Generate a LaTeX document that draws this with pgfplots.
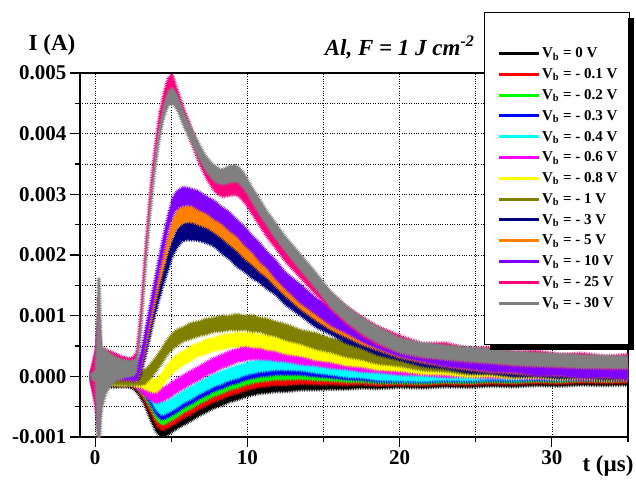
\documentclass[border=0pt]{standalone}
\usepackage{pgfplots}
\pgfplotsset{compat=1.18}
\usepackage{pgfplotstable}
\usepgfplotslibrary{fillbetween}
\usetikzlibrary{decorations.pathmorphing}
\usepackage{fontspec}
\setmainfont{Liberation Serif}

\definecolor{cRed}{RGB}{255,0,0}
\definecolor{cGreen}{RGB}{0,255,0}
\definecolor{cBlue}{RGB}{0,0,255}
\definecolor{cCyan}{RGB}{0,255,255}
\definecolor{cMag}{RGB}{255,0,255}
\definecolor{cYel}{RGB}{255,255,0}
\definecolor{cOlive}{RGB}{128,128,0}
\definecolor{cNavy}{RGB}{0,0,128}
\definecolor{cOrange}{RGB}{255,128,0}
\definecolor{cViolet}{RGB}{128,0,255}
\definecolor{cPink}{RGB}{255,0,128}
\definecolor{cGray}{RGB}{128,128,128}

% current in mA (tick labels give A)
\pgfplotstableread{
t lo hi
-0.3 -0.10 0.02
0.05 -0.35 0.25
0.2 -0.60 0.50
0.4 -0.30 0.20
0.7 -0.17 0.01
1.2 -0.19 0.00
1.8 -0.18 0.01
2.4 -0.19 -0.01
2.8 -0.29 -0.08
3.2 -0.46 -0.26
3.6 -0.71 -0.50
4.0 -0.93 -0.71
4.4 -1.02 -0.80
4.8 -0.97 -0.75
5.3 -0.88 -0.67
5.8 -0.81 -0.60
6.3 -0.74 -0.52
6.8 -0.66 -0.46
7.3 -0.60 -0.38
7.8 -0.53 -0.33
8.3 -0.49 -0.27
8.8 -0.43 -0.23
9.3 -0.40 -0.18
9.8 -0.35 -0.15
10.3 -0.32 -0.10
10.8 -0.29 -0.09
11.3 -0.28 -0.06
11.8 -0.26 -0.06
12.5 -0.26 -0.04
13.5 -0.23 -0.03
14.5 -0.23 -0.01
15.5 -0.22 -0.02
16.5 -0.22 0.00
17.5 -0.20 0.00
18.5 -0.21 0.01
20 -0.19 0.01
21.5 -0.20 0.02
23 -0.18 0.02
24.5 -0.19 0.03
26 -0.17 0.03
27.5 -0.18 0.04
29 -0.16 0.04
30.5 -0.17 0.05
32 -0.15 0.05
33.5 -0.16 0.06
35 -0.15 0.05
}\Sblack

\pgfplotstableread{
t lo hi
-0.3 -0.08 0.04
0.05 -0.30 0.22
0.2 -0.55 0.45
0.4 -0.28 0.18
0.7 -0.15 0.03
1.2 -0.16 0.02
1.8 -0.17 0.03
2.4 -0.16 0.02
2.8 -0.24 -0.04
3.2 -0.40 -0.19
3.6 -0.60 -0.38
4.0 -0.81 -0.60
4.4 -0.90 -0.68
4.8 -0.85 -0.64
5.3 -0.78 -0.56
5.8 -0.69 -0.48
6.3 -0.63 -0.41
6.8 -0.55 -0.35
7.3 -0.49 -0.27
7.8 -0.42 -0.22
8.3 -0.38 -0.16
8.8 -0.32 -0.11
9.3 -0.29 -0.07
9.8 -0.24 -0.03
10.3 -0.21 0.01
10.8 -0.18 0.02
11.3 -0.17 0.05
11.8 -0.15 0.05
12.5 -0.15 0.07
13.5 -0.13 0.07
14.5 -0.14 0.08
15.5 -0.14 0.06
16.5 -0.15 0.07
17.5 -0.14 0.06
18.5 -0.16 0.06
20 -0.15 0.05
21.5 -0.16 0.06
23 -0.14 0.06
24.5 -0.15 0.07
26 -0.13 0.07
27.5 -0.14 0.08
29 -0.12 0.08
30.5 -0.13 0.09
32 -0.11 0.09
33.5 -0.12 0.10
35 -0.11 0.09
}\Sred

\pgfplotstableread{
t lo hi
-0.3 -0.07 0.05
0.05 -0.28 0.20
0.2 -0.50 0.42
0.4 -0.25 0.17
0.7 -0.14 0.04
1.2 -0.15 0.03
1.8 -0.16 0.05
2.4 -0.15 0.03
2.8 -0.21 -0.01
3.2 -0.34 -0.13
3.6 -0.51 -0.29
4.0 -0.72 -0.51
4.4 -0.81 -0.59
4.8 -0.76 -0.55
5.3 -0.69 -0.47
5.8 -0.60 -0.39
6.3 -0.54 -0.32
6.8 -0.46 -0.25
7.3 -0.40 -0.18
7.8 -0.33 -0.12
8.3 -0.29 -0.07
8.8 -0.23 -0.02
9.3 -0.20 0.02
9.8 -0.15 0.06
10.3 -0.12 0.10
10.8 -0.09 0.11
11.3 -0.08 0.14
11.8 -0.06 0.14
12.5 -0.06 0.16
13.5 -0.05 0.15
14.5 -0.07 0.15
15.5 -0.08 0.12
16.5 -0.10 0.12
17.5 -0.10 0.10
18.5 -0.12 0.10
20 -0.12 0.08
21.5 -0.13 0.09
23 -0.11 0.09
24.5 -0.12 0.10
26 -0.10 0.10
27.5 -0.11 0.11
29 -0.09 0.11
30.5 -0.10 0.12
32 -0.08 0.12
33.5 -0.09 0.13
35 -0.08 0.12
}\Sgreen

\pgfplotstableread{
t lo hi
-0.3 -0.06 0.06
0.05 -0.26 0.18
0.2 -0.45 0.40
0.4 -0.22 0.16
0.7 -0.13 0.05
1.2 -0.14 0.04
1.8 -0.15 0.06
2.4 -0.14 0.04
2.8 -0.19 0.01
3.2 -0.29 -0.08
3.6 -0.45 -0.23
4.0 -0.64 -0.43
4.4 -0.73 -0.51
4.8 -0.68 -0.47
5.3 -0.61 -0.39
5.8 -0.52 -0.31
6.3 -0.46 -0.24
6.8 -0.38 -0.17
7.3 -0.32 -0.10
7.8 -0.25 -0.04
8.3 -0.21 0.01
8.8 -0.15 0.06
9.3 -0.12 0.10
9.8 -0.07 0.14
10.3 -0.04 0.18
10.8 -0.01 0.19
11.3 0.00 0.22
11.8 0.02 0.22
12.5 0.02 0.24
13.5 0.02 0.22
14.5 -0.01 0.21
15.5 -0.03 0.17
16.5 -0.06 0.16
17.5 -0.07 0.13
18.5 -0.10 0.12
20 -0.10 0.10
21.5 -0.11 0.11
23 -0.09 0.11
24.5 -0.10 0.12
26 -0.08 0.12
27.5 -0.09 0.13
29 -0.07 0.13
30.5 -0.08 0.14
32 -0.06 0.14
33.5 -0.07 0.15
35 -0.06 0.14
}\Sblue

\pgfplotstableread{
t lo hi
-0.3 -0.05 0.07
0.05 -0.24 0.17
0.2 -0.42 0.38
0.4 -0.20 0.15
0.7 -0.12 0.06
1.2 -0.13 0.05
1.8 -0.14 0.07
2.4 -0.13 0.05
2.8 -0.17 0.03
3.2 -0.24 -0.03
3.6 -0.38 -0.16
4.0 -0.56 -0.35
4.4 -0.65 -0.43
4.8 -0.60 -0.39
5.3 -0.53 -0.31
5.8 -0.44 -0.23
6.3 -0.38 -0.16
6.8 -0.30 -0.09
7.3 -0.24 -0.02
7.8 -0.17 0.04
8.3 -0.13 0.09
8.8 -0.07 0.14
9.3 -0.04 0.18
9.8 0.01 0.22
10.3 0.04 0.26
10.8 0.07 0.27
11.3 0.08 0.30
11.8 0.10 0.30
12.5 0.10 0.32
13.5 0.09 0.29
14.5 0.05 0.27
15.5 0.02 0.22
16.5 -0.02 0.20
17.5 -0.03 0.17
18.5 -0.07 0.15
20 -0.08 0.12
21.5 -0.09 0.13
23 -0.07 0.13
24.5 -0.08 0.14
26 -0.06 0.14
27.5 -0.07 0.15
29 -0.05 0.15
30.5 -0.06 0.16
32 -0.04 0.16
33.5 -0.05 0.17
35 -0.04 0.16
}\Scyan

\pgfplotstableread{
t lo hi
-0.3 -0.06 0.07
0.05 -0.22 0.18
0.2 -0.40 0.36
0.4 -0.19 0.15
0.7 -0.13 0.08
1.2 -0.14 0.07
1.8 -0.15 0.06
2.4 -0.14 0.05
2.8 -0.21 0.00
3.2 -0.31 -0.08
3.6 -0.40 -0.17
4.0 -0.45 -0.21
4.4 -0.42 -0.19
4.8 -0.37 -0.13
5.3 -0.28 -0.05
5.8 -0.21 0.03
6.3 -0.13 0.10
6.8 -0.07 0.17
7.3 0.01 0.24
7.8 0.06 0.31
8.3 0.13 0.36
8.8 0.17 0.42
9.3 0.23 0.46
9.8 0.25 0.50
10.3 0.28 0.51
10.8 0.27 0.52
11.3 0.27 0.50
11.8 0.25 0.50
12.5 0.24 0.47
13.5 0.19 0.44
14.5 0.17 0.40
15.5 0.13 0.38
16.5 0.11 0.34
17.5 0.07 0.32
18.5 0.06 0.29
20 0.02 0.27
21.5 0.01 0.24
23 -0.02 0.23
24.5 -0.02 0.21
26 -0.04 0.21
27.5 -0.04 0.19
29 -0.05 0.20
30.5 -0.05 0.18
32 -0.06 0.19
33.5 -0.06 0.17
35 -0.07 0.17
}\Smag

\pgfplotstableread{
t lo hi
-0.3 -0.06 0.07
0.05 -0.20 0.17
0.2 -0.36 0.33
0.4 -0.17 0.14
0.7 -0.13 0.08
1.2 -0.15 0.07
1.8 -0.16 0.06
2.4 -0.15 0.06
2.8 -0.18 0.04
3.2 -0.21 0.02
3.6 -0.26 -0.02
4.0 -0.28 -0.05
4.4 -0.18 0.07
4.8 -0.02 0.22
5.3 0.09 0.35
5.8 0.19 0.42
6.3 0.25 0.51
6.8 0.33 0.55
7.3 0.36 0.62
7.8 0.42 0.64
8.3 0.43 0.69
8.8 0.48 0.70
9.3 0.47 0.73
9.8 0.50 0.72
10.3 0.47 0.73
10.8 0.47 0.69
11.3 0.43 0.69
11.8 0.42 0.64
12.5 0.36 0.62
13.5 0.33 0.55
14.5 0.26 0.52
15.5 0.23 0.45
16.5 0.17 0.43
17.5 0.15 0.37
18.5 0.10 0.36
20 0.08 0.30
21.5 0.03 0.29
23 0.02 0.24
24.5 -0.02 0.24
26 -0.01 0.21
27.5 -0.04 0.22
29 -0.03 0.19
30.5 -0.06 0.20
32 -0.04 0.18
33.5 -0.07 0.19
35 -0.05 0.17
}\Syel

\pgfplotstableread{
t lo hi
-0.3 -0.05 0.08
0.05 -0.18 0.16
0.2 -0.33 0.30
0.4 -0.15 0.13
0.7 -0.12 0.09
1.2 -0.14 0.08
1.8 -0.15 0.07
2.4 -0.15 0.07
2.8 -0.15 0.08
3.2 -0.15 0.10
3.6 -0.05 0.20
4.0 0.07 0.33
4.4 0.21 0.48
4.8 0.37 0.64
5.3 0.49 0.77
5.8 0.57 0.82
6.3 0.61 0.89
6.8 0.66 0.91
7.3 0.68 0.96
7.8 0.73 0.97
8.3 0.73 1.01
8.8 0.76 1.00
9.3 0.75 1.04
9.8 0.76 1.00
10.3 0.73 1.02
10.8 0.73 0.97
11.3 0.68 0.96
11.8 0.66 0.91
12.5 0.59 0.87
13.5 0.53 0.77
14.5 0.44 0.72
15.5 0.39 0.63
16.5 0.31 0.59
17.5 0.27 0.51
18.5 0.20 0.48
20 0.16 0.40
21.5 0.09 0.37
23 0.07 0.31
24.5 0.02 0.30
26 0.02 0.26
27.5 -0.02 0.26
29 -0.01 0.23
30.5 -0.04 0.24
32 -0.03 0.21
33.5 -0.05 0.22
35 -0.04 0.20
}\Solive

\pgfplotstableread{
t lo hi
-0.3 -0.06 0.05
0.05 -0.45 0.40
0.2 -0.85 0.95
0.4 -0.35 0.40
0.7 -0.12 0.25
1.2 -0.07 0.20
1.8 -0.07 0.18
2.4 -0.08 0.15
2.7 -0.10 0.13
3.0 0.00 0.30
3.3 0.30 0.61
3.6 0.62 0.93
3.9 0.96 1.26
4.2 1.24 1.56
4.5 1.51 1.80
4.8 1.74 2.06
5.1 1.98 2.27
5.4 2.12 2.44
5.8 2.24 2.53
6.3 2.24 2.56
6.8 2.23 2.52
7.3 2.19 2.51
7.8 2.14 2.43
8.3 2.02 2.34
8.8 1.93 2.21
9.3 1.80 2.12
9.8 1.72 2.00
10.3 1.61 1.93
10.8 1.54 1.82
11.3 1.43 1.75
11.8 1.35 1.63
12.5 1.17 1.49
13.5 0.99 1.27
14.5 0.80 1.12
15.5 0.68 0.96
16.5 0.54 0.86
17.5 0.46 0.74
18.5 0.35 0.67
20 0.26 0.54
21.5 0.16 0.48
23 0.12 0.40
24.5 0.05 0.37
26 0.04 0.32
27.5 -0.01 0.31
29 -0.01 0.27
30.5 -0.04 0.28
32 -0.03 0.25
33.5 -0.06 0.26
35 -0.05 0.23
}\Snavy

\pgfplotstableread{
t lo hi
-0.3 -0.06 0.06
0.05 -0.48 0.42
0.2 -0.88 0.98
0.4 -0.38 0.42
0.7 -0.11 0.26
1.2 -0.06 0.21
1.8 -0.07 0.19
2.4 -0.08 0.17
2.7 -0.10 0.15
3.0 0.06 0.35
3.3 0.40 0.70
3.6 0.77 1.07
3.9 1.13 1.43
4.2 1.48 1.78
4.5 1.78 2.09
4.8 2.08 2.38
5.1 2.31 2.61
5.4 2.45 2.76
5.8 2.53 2.82
6.3 2.54 2.83
6.8 2.49 2.79
7.3 2.45 2.73
7.8 2.37 2.68
8.3 2.28 2.56
8.8 2.17 2.47
9.3 2.07 2.35
9.8 1.94 2.24
10.3 1.84 2.12
10.8 1.72 2.02
11.3 1.62 1.90
11.8 1.49 1.79
12.5 1.32 1.60
13.5 1.10 1.40
14.5 0.92 1.20
15.5 0.76 1.06
16.5 0.64 0.92
17.5 0.52 0.82
18.5 0.43 0.71
20 0.30 0.56
21.5 0.22 0.48
23 0.15 0.43
24.5 0.10 0.37
26 0.06 0.35
27.5 0.04 0.31
29 0.01 0.29
30.5 0.00 0.28
32 -0.02 0.26
33.5 -0.03 0.25
35 -0.04 0.24
}\Sorange

\pgfplotstableread{
t lo hi
-0.3 -0.07 0.06
0.05 -0.50 0.45
0.2 -0.90 1.00
0.4 -0.40 0.45
0.7 -0.10 0.28
1.2 -0.05 0.22
1.8 -0.06 0.20
2.4 -0.07 0.18
2.7 -0.09 0.17
3.0 0.10 0.40
3.3 0.49 0.81
3.6 0.90 1.21
3.9 1.29 1.61
4.2 1.70 2.00
4.5 2.04 2.37
4.8 2.40 2.70
5.1 2.64 2.97
5.4 2.77 3.07
5.8 2.81 3.13
6.3 2.82 3.10
6.8 2.74 3.06
7.3 2.69 2.97
7.8 2.59 2.91
8.3 2.52 2.80
8.8 2.40 2.72
9.3 2.31 2.59
9.8 2.16 2.48
10.3 2.05 2.33
10.8 1.89 2.21
11.3 1.78 2.06
11.8 1.62 1.94
12.5 1.44 1.72
13.5 1.20 1.52
14.5 1.02 1.30
15.5 0.83 1.15
16.5 0.71 0.99
17.5 0.57 0.86
18.5 0.46 0.74
20 0.32 0.58
21.5 0.24 0.50
23 0.16 0.46
24.5 0.12 0.40
26 0.07 0.38
27.5 0.06 0.33
29 0.01 0.32
30.5 0.01 0.29
32 -0.03 0.29
33.5 -0.02 0.26
35 -0.05 0.27
}\Sviolet

\pgfplotstableread{
t lo hi
-0.3 -0.06 0.07
0.05 -0.60 0.50
0.2 -1.05 1.30
0.4 -0.50 0.48
0.7 -0.18 0.45
1.2 -0.06 0.40
1.8 -0.01 0.33
2.4 0.02 0.30
2.7 0.10 0.40
3.0 0.85 1.15
3.3 1.90 2.20
3.6 2.80 3.10
3.9 3.50 3.80
4.2 4.06 4.34
4.5 4.40 4.70
4.8 4.64 4.95
5.1 4.65 4.98
5.4 4.45 4.74
5.8 4.17 4.45
6.3 3.84 4.12
6.8 3.51 3.79
7.3 3.25 3.52
7.8 3.05 3.32
8.3 2.95 3.22
8.8 2.97 3.24
9.3 2.99 3.26
9.8 2.86 3.14
10.3 2.67 2.94
10.8 2.47 2.74
11.3 2.28 2.56
11.8 2.12 2.38
12.5 1.88 2.16
13.5 1.61 1.89
14.5 1.34 1.63
15.5 1.09 1.38
16.5 0.86 1.16
17.5 0.67 0.99
18.5 0.52 0.84
20 0.38 0.68
21.5 0.30 0.55
23 0.27 0.56
24.5 0.23 0.47
26 0.21 0.49
27.5 0.17 0.41
29 0.16 0.43
30.5 0.14 0.37
32 0.13 0.39
33.5 0.12 0.34
35 0.12 0.37
}\Spink

\pgfplotstableread{
t lo hi
-0.3 -0.05 0.05
-0.02 -0.08 0.08
0.08 -0.70 0.60
0.15 -1.30 1.62
0.32 -1.30 1.62
0.42 -0.60 0.50
0.7 -0.30 0.44
1.2 -0.10 0.34
1.8 -0.03 0.28
2.4 -0.01 0.26
2.7 0.03 0.30
3.0 0.60 0.90
3.3 1.65 1.95
3.6 2.55 2.85
3.9 3.26 3.55
4.2 3.82 4.09
4.5 4.22 4.48
4.8 4.45 4.72
5.1 4.48 4.76
5.4 4.37 4.63
5.8 4.11 4.39
6.3 3.85 4.11
6.8 3.58 3.86
7.3 3.37 3.63
7.8 3.21 3.49
8.3 3.15 3.41
8.8 3.18 3.48
9.3 3.21 3.49
9.8 3.08 3.36
10.3 2.87 3.13
10.8 2.66 2.94
11.3 2.47 2.73
11.8 2.28 2.56
12.5 2.05 2.31
13.5 1.74 2.02
14.5 1.44 1.72
15.5 1.12 1.40
16.5 0.89 1.17
17.5 0.70 0.98
18.5 0.55 0.83
20 0.38 0.64
21.5 0.31 0.56
23 0.27 0.52
24.5 0.24 0.49
26 0.21 0.46
27.5 0.18 0.42
29 0.16 0.40
30.5 0.15 0.38
32 0.13 0.36
33.5 0.13 0.35
35 0.12 0.34
}\Sgray

\newcommand{\band}[3]{%
  \addplot[draw=none, forget plot, name path=#3h] table[x=t,y=hi]{#1};
  \addplot[draw=none, forget plot, name path=#3l] table[x=t,y=lo]{#1};
  \addplot[fill=#2, draw=none, forget plot, decorate,
    decoration={zigzag, segment length=1.7pt, amplitude=1.6pt}]
    fill between[of=#3h and #3l];
}
\newcommand{\legtxt}[1]{\makebox[73pt][l]{V\textsubscript{b} = #1 V}}

\begin{document}
\begin{tikzpicture}
\begin{axis}[
  at={(0pt,0pt)}, anchor=south west,
  scale only axis, width=548pt, height=364pt,
  xmin=-1, xmax=35, ymin=-1, ymax=5,
  xtick={0,10,20,30}, xticklabels={0,10,20,30},
  minor xtick={5,15,25,35},
  ytick={-1,0,1,2,3,4,5},
  yticklabels={-0.001,0.000,0.001,0.002,0.003,0.004,0.005},
  minor ytick={-0.5,0.5,1.5,2.5,3.5,4.5},
  grid=both,
  major grid style={black, line width=0.7pt, dash pattern=on 0.8pt off 1.6pt},
  minor grid style={black, line width=0.7pt, dash pattern=on 0.8pt off 1.6pt},
  tick pos=left, tick align=outside,
  major tick length=10pt, minor tick length=5pt,
  every tick/.style={black, line width=1.2pt},
  axis line style={black, line width=1.3pt},
  ticklabel style={font=\fontsize{21}{21}\selectfont\bfseries},
  legend style={at={(0.7372,1.1676)}, anchor=north west,
    draw=black, line width=1.2pt, fill=white,
    font=\fontsize{15}{15}\selectfont\bfseries,
    inner xsep=13pt, inner ysep=30.6pt, row sep=0pt,
    nodes={inner xsep=1.5pt, inner ysep=0pt, minimum height=20.8pt}},
  legend cell align=left,
  legend image code/.code={\draw[#1, line width=3pt] (0pt,0pt) -- (40pt,0pt);},
]
\band{\Sblack}{black}{ka}
\band{\Sred}{cRed}{kb}
\band{\Sgreen}{cGreen}{kc}
\band{\Sblue}{cBlue}{kd}
\band{\Scyan}{cCyan}{ke}
\band{\Smag}{cMag}{kf}
\band{\Syel}{cYel}{kg}
\band{\Solive}{cOlive}{kh}
\band{\Snavy}{cNavy}{ki}
\band{\Sorange}{cOrange}{kj}
\band{\Sviolet}{cViolet}{kk}
\band{\Spink}{cPink}{kl}
\band{\Sgray}{cGray}{km}

\addlegendimage{black}\addlegendentry{\legtxt{0}}
\addlegendimage{cRed}\addlegendentry{\legtxt{- 0.1}}
\addlegendimage{cGreen}\addlegendentry{\legtxt{- 0.2}}
\addlegendimage{cBlue}\addlegendentry{\legtxt{- 0.3}}
\addlegendimage{cCyan}\addlegendentry{\legtxt{- 0.4}}
\addlegendimage{cMag}\addlegendentry{\legtxt{- 0.6}}
\addlegendimage{cYel}\addlegendentry{\legtxt{- 0.8}}
\addlegendimage{cOlive}\addlegendentry{\legtxt{- 1}}
\addlegendimage{cNavy}\addlegendentry{\legtxt{- 3}}
\addlegendimage{cOrange}\addlegendentry{\legtxt{- 5}}
\addlegendimage{cViolet}\addlegendentry{\legtxt{- 10}}
\addlegendimage{cPink}\addlegendentry{\legtxt{- 25}}
\addlegendimage{cGray}\addlegendentry{\legtxt{- 30}}
\end{axis}
% legend shadow (right and bottom strips)
\fill[black] (547.6pt,88pt) rectangle (554pt,419pt);
\fill[black] (410pt,87pt) rectangle (554pt,93.4pt);
\node[font=\fontsize{23}{23}\selectfont\bfseries] at (-28pt,392pt) {I (A)};
\node[font=\fontsize{23}{23}\selectfont\bfseries] at (528pt,-29pt) {t (µs)};
\node[font=\fontsize{23}{23}\selectfont\bfseries\itshape, anchor=base east] at (398pt,381pt) {Al, F = 1 J cm\textsuperscript{-2}};
\pgfresetboundingbox
\path[use as bounding box] (-80pt,-45pt) rectangle (556pt,437pt);
\end{tikzpicture}
\end{document}
